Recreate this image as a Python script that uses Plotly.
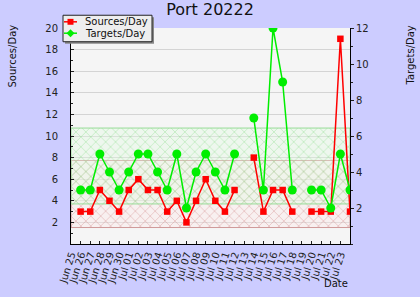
import numpy as np
import pandas as pd
import plotly.graph_objects as go

# ---- data ----
dates = [d.strftime("%Y-%m-%d") for d in pd.date_range("2021-06-25", "2021-07-24", freq="D")]
tick_labels = [pd.Timestamp(d).strftime("%b %d") for d in dates[:-1]]
sources = [None, 3, 3, 5, 4, 3, 5, 6, 5, 5, 3, 4, 2, 4, 6, 4, 3, 5, None,
           8, 3, 5, 5, 3, None, 3, 3, 3, 19, 3]
targets = [None, 3, 3, 5, 4, 3, 4, 5, 5, 4, 3, 5, 2, 4, 5, 4, 3, 5, None,
           7, 3, 12, 9, 3, None, 3, 3, 2, 5, 3]
left_ticks = [2, 4, 6, 8, 10, 12, 14, 16, 18, 20]
right_ticks = [2, 4, 6, 8, 10, 12]
left_max, right_max = 20, 12

RED = "#ff0000"
GREEN = "#00ee00"
FONT = "DejaVu Sans"

s_arr = np.array([np.nan if v is None else v for v in sources], dtype=float)
t_arr = np.array([np.nan if v is None else v for v in targets], dtype=float)
s_lo, s_hi = np.nanmean(s_arr) - np.nanstd(s_arr), np.nanmean(s_arr) + np.nanstd(s_arr)
scale = left_max / right_max
t_lo, t_hi = (np.nanmean(t_arr) - np.nanstd(t_arr)) * scale, (np.nanmean(t_arr) + np.nanstd(t_arr)) * scale

fig = go.Figure()

def band(lo, hi, fg, edge, tint):
    fig.add_trace(go.Scatter(
        x=[dates[0], dates[-1], dates[-1], dates[0], dates[0]],
        y=[lo, lo, hi, hi, lo],
        mode="lines", fill="toself", fillcolor=tint,
        fillpattern=dict(shape="x", fgcolor=fg, bgcolor=tint, size=7, solidity=0.2),
        line=dict(color=edge, width=1), hoverinfo="skip", showlegend=False, yaxis="y"))

band(s_lo, s_hi, "rgba(205,130,130,1)", "#d09a9a", "rgba(255,232,232,0.35)")
band(t_lo, t_hi, "rgba(130,220,130,1)", "#98dc98", "rgba(225,250,225,0.35)")

fig.add_trace(go.Scatter(x=dates, y=sources, mode="lines+markers", name="Sources/Day",
                         line=dict(color=RED, width=1.5),
                         marker=dict(symbol="square", size=6.5, color=RED),
                         yaxis="y", showlegend=False))
fig.add_trace(go.Scatter(x=dates, y=targets, mode="lines+markers", name="Targets/Day",
                         line=dict(color=GREEN, width=1.5),
                         marker=dict(symbol="circle", size=9, color=GREEN),
                         yaxis="y2", showlegend=False))

# geometry helpers for decorations (paper coords from pixel)
L, R, T, B = 71, 70, 28, 49
W, H = 420, 297
pw, ph = W - L - R, H - T - B
def px(x): return (x - L) / pw
def py(y): return (H - B - y) / ph

shapes = []
# legend shadow + box
shapes.append(dict(type="rect", xref="paper", yref="paper", x0=px(65), x1=px(154), y0=py(44), y1=py(17),
                   fillcolor="#888888", line=dict(width=0), layer="above"))
shapes.append(dict(type="rect", xref="paper", yref="paper", x0=px(63), x1=px(152), y0=py(42), y1=py(15),
                   fillcolor="#eeeeee", line=dict(color="#222222", width=1), layer="above"))
for yy, col in [(21.7, RED), (33.3, GREEN)]:
    shapes.append(dict(type="line", xref="paper", yref="paper", x0=px(64), x1=px(77), y0=py(yy), y1=py(yy),
                       line=dict(color=col, width=1.5), layer="above"))
shapes.append(dict(type="rect", xref="paper", yref="paper", x0=px(67.5), x1=px(73.5), y0=py(24.7), y1=py(18.7),
                   fillcolor=RED, line=dict(width=0), layer="above"))
shapes.append(dict(type="path", xref="paper", yref="paper",
                   path=f"M {px(70.5)},{py(29.3)} L {px(74.5)},{py(33.3)} L {px(70.5)},{py(37.3)} L {px(66.5)},{py(33.3)} Z",
                   fillcolor=GREEN, line=dict(width=0), layer="above"))

annotations = [
    dict(text="Sources/Day", xref="paper", yref="paper", x=px(83), y=py(21.7), xanchor="left", yanchor="middle",
         showarrow=False, font=dict(size=10, color="#111", family=FONT)),
    dict(text="Targets/Day", xref="paper", yref="paper", x=px(83), y=py(33.3), xanchor="left", yanchor="middle",
         showarrow=False, font=dict(size=10, color="#111", family=FONT)),
    dict(text="Sources/Day", xref="paper", yref="paper", x=px(12), y=py(57), textangle=-90,
         xanchor="center", yanchor="middle", showarrow=False, font=dict(size=10, color="#111", family=FONT)),
    dict(text="Targets/Day", xref="paper", yref="paper", x=px(410), y=py(56), textangle=-90,
         xanchor="center", yanchor="middle", showarrow=False, font=dict(size=10, color="#111", family=FONT)),
    dict(text="Date", xref="paper", yref="paper", x=px(350), y=py(288), xanchor="right", yanchor="middle",
         showarrow=False, font=dict(size=10, color="#111", family=FONT)),
]

fig.update_layout(
    width=W, height=H,
    margin=dict(l=L, r=R, t=T, b=B),
    paper_bgcolor="#ccccff",
    plot_bgcolor="#f5f5f5",
    font=dict(family=FONT, size=9, color="#222"),
    title=dict(text="Port 20222", x=0.5, xanchor="center", y=1 - 9.5 / H, yanchor="middle",
               font=dict(size=16, color="#111", family=FONT)),
    xaxis=dict(type="date", range=[dates[0], dates[-1]], tickvals=dates[:-1], ticktext=tick_labels,
               tickangle=-72, ticks="inside", ticklen=3, tickcolor="#222", showgrid=False,
               showline=True, linecolor="black", linewidth=1, zeroline=False,
               tickfont=dict(size=10, color="#222")),
    yaxis=dict(range=[0, left_max], tickvals=left_ticks, ticks="inside", ticklen=3, tickcolor="#222",
               minor=dict(dtick=1, ticks="inside", ticklen=2, tickcolor="#222", showgrid=False),
               showgrid=True, gridcolor="#d4d4d4", gridwidth=1, zeroline=False,
               showline=True, linecolor="black", linewidth=1, ticklabelstandoff=10,
               tickfont=dict(size=10, color="#222")),
    yaxis2=dict(range=[0, right_max], tickvals=right_ticks, overlaying="y", side="right",
                ticks="outside", ticklen=3, tickcolor="#222",
                minor=dict(dtick=1, ticks="outside", ticklen=2, tickcolor="#222", showgrid=False),
                showgrid=False, zeroline=False, showline=True, linecolor="black", linewidth=1,
                tickfont=dict(size=10, color="#222")),
    shapes=shapes,
    annotations=annotations,
    showlegend=False,
)

fig.write_html("out.html")
